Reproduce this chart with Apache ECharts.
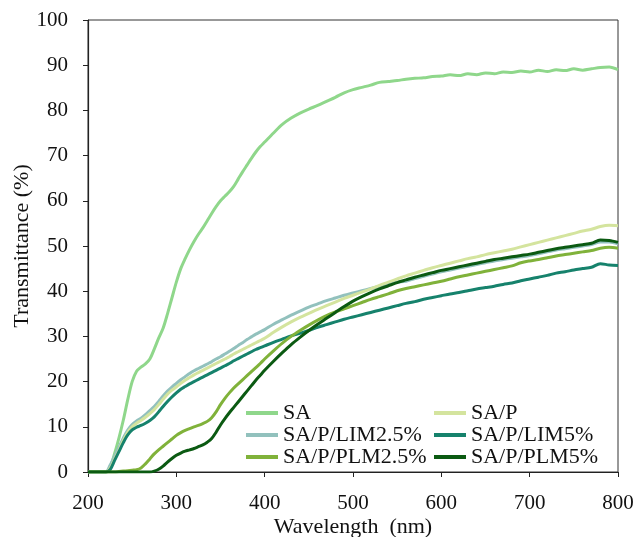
<!DOCTYPE html>
<html>
<head>
<meta charset="utf-8">
<script src="https://cdn.jsdelivr.net/npm/echarts@6/dist/echarts.min.js"></script>
<style>html,body{margin:0;padding:0;background:#fff}#chart{width:635px;height:537px}</style>
</head>
<body>
<div id="chart"></div>
<script>
const wavelengths = [200,205,210,215,220,225,230,235,240,245,250,255,260,265,270,275,280,285,290,295,300,305,310,315,320,325,330,335,340,345,350,355,360,365,370,375,380,385,390,395,400,
410,420,430,440,450,460,470,480,490,500,510,520,530,540,550,560,570,580,590,600,610,620,630,640,650,660,670,680,690,700,710,720,730,740,750,760,770,780,790,800];

const seriesNames = ['SA','SA/P','SA/P/LIM2.5%','SA/P/LIM5%','SA/P/PLM2.5%','SA/P/PLM5%'];

const sa = [0,0,0,0,0,
1,4,7.5,11.5,16,20,22.3,23.2,23.9,25,
27.2,29.6,31.8,35,38.5,42,45,47.2,49.2,51,
52.6,54,55.6,57.2,58.7,60,61,62,63.2,64.8,
66.4,67.9,69.4,70.8,72,73,
75,76.9,78.3,79.4,80.3,81.1,82,82.9,83.9,84.6,
85.1,85.6,86.2,86.4,86.6,86.9,87.1,87.2,87.5,87.6,
87.9,87.7,88.1,87.9,88.3,88.1,88.5,88.4,88.7,88.5,
88.9,88.6,89,88.8,89.2,88.9,89.2,89.5,89.6,89.0];

const saP = [0,0,0,0,0,
0.8,2.8,4.8,7,8.8,10,10.8,11.4,12.1,12.9,
13.8,14.9,16.1,17.2,18.1,18.8,19.6,20.3,20.9,21.5,
22,22.5,23,23.5,24,24.5,25,25.5,26.1,26.6,
27.1,27.6,28.1,28.6,29.1,29.6,
30.9,32.1,33.2,34.2,35.1,36,36.8,37.6,38.4,39.1,
39.8,40.5,41.3,42,42.7,43.4,44,44.6,45.2,45.7,
46.2,46.7,47.2,47.6,48.1,48.5,48.9,49.3,49.8,50.3,
50.8,51.3,51.8,52.3,52.8,53.3,53.7,54.3,54.6,54.5];

const lim25 = [0,0,0,0,0,
1.5,3.5,5.5,7.5,9.3,10.5,11.3,11.9,12.7,13.6,
14.5,15.6,16.8,17.9,18.8,19.6,20.4,21.1,21.8,22.4,
22.9,23.4,23.9,24.4,25,25.5,26.1,26.7,27.3,28,
28.6,29.3,29.9,30.5,31,31.5,
32.7,33.7,34.7,35.6,36.5,37.2,37.9,38.5,39.1,39.6,
40.1,40.6,41.1,41.7,42,42.2,42.8,43.3,43.8,44.3,
44.7,45.1,45.5,45.9,46.3,46.7,47,47.3,47.6,47.9,
48.3,48.7,49.1,49.4,49.7,50,50.3,50.9,50.9,50.5];

const lim5 = [0,0,0,0,0,
0.5,2.5,4.5,6.5,8.2,9.3,9.9,10.3,10.8,11.4,
12.2,13.3,14.5,15.6,16.6,17.5,18.3,18.9,19.5,20,
20.5,21,21.5,22,22.5,23,23.5,24,24.6,25.1,
25.6,26.1,26.6,27.1,27.5,27.9,
28.7,29.4,30.1,30.7,31.3,32,32.6,33.2,33.8,34.3,
34.8,35.3,35.8,36.3,36.8,37.3,37.7,38.2,38.6,39,
39.4,39.7,40.1,40.5,40.8,41.1,41.5,41.8,42.3,42.7,
43.1,43.5,44,44.3,44.7,45,45.3,46.1,45.8,45.7];

const plm25 = [0,0,0,0,0,0,0,0.1,0.2,0.3,0.4,0.5,0.9,1.8,2.9,
4,4.9,5.7,6.5,7.3,8.1,8.7,9.2,9.6,10,
10.3,10.7,11.2,12,13.3,14.9,16.3,17.5,18.6,19.5,
20.4,21.3,22.2,23.1,24,25,
26.8,28.5,30,31.3,32.5,33.6,34.6,35.4,36.1,36.8,
37.5,38.2,38.8,39.4,40.1,40.6,41,41.4,41.8,42.2,
42.7,43.2,43.6,44,44.4,44.8,45.2,45.6,46.3,46.7,
47,47.4,47.8,48.1,48.4,48.7,49,49.5,49.7,49.5];

const plm5 = [0,0,0,0,0,0,0,0,0,0,0,0,0,0,0,
0.2,0.6,1.3,2.2,3,3.7,4.2,4.6,4.9,5.2,
5.6,6,6.6,7.4,8.8,10.4,11.8,13.1,14.3,15.5,
16.7,17.9,19.1,20.3,21.4,22.5,
24.5,26.4,28.2,29.8,31.3,32.7,34,35.3,36.6,37.8,
38.8,39.7,40.5,41.2,41.9,42.5,43.1,43.6,44.1,44.6,
45,45.4,45.8,46.2,46.6,47,47.3,47.6,47.9,48.2,
48.6,49,49.4,49.7,50,50.3,50.6,51.3,51.2,50.8];

const colors = {
  'SA': '#8fd78b',
  'SA/P': '#d4e49e',
  'SA/P/LIM2.5%': '#92c1bd',
  'SA/P/LIM5%': '#16826c',
  'SA/P/PLM2.5%': '#80b23a',
  'SA/P/PLM5%': '#0b5a12'
};
const valuesByName = {
  'SA': sa, 'SA/P': saP, 'SA/P/LIM2.5%': lim25,
  'SA/P/LIM5%': lim5, 'SA/P/PLM2.5%': plm25, 'SA/P/PLM5%': plm5
};
// drawing order (later on top)
const drawOrder = ['SA','SA/P/LIM2.5%','SA/P','SA/P/LIM5%','SA/P/PLM2.5%','SA/P/PLM5%'];

const FONT = "'Liberation Serif','Times New Roman',serif";

const chart = echarts.init(document.getElementById('chart'), null, {renderer: 'canvas'});
const legendCommon = {
  orient: 'vertical',
  icon: 'rect',
  itemWidth: 32,
  itemHeight: 4,
  itemGap: 0,
  padding: 0,
  top: 402,
  textStyle: {fontFamily: FONT, fontSize: 22, color: '#111'},
  selectedMode: false
};
chart.setOption({
  animation: false,
  backgroundColor: '#fff',
  grid: {left: 88, right: 17, top: 20, bottom: 65, containLabel: false, outerBoundsMode: 'none',
         show: true, borderColor: '#333', borderWidth: 1},
  legend: [
    Object.assign({}, legendCommon, {left: 246, data: [seriesNames[0], seriesNames[2], seriesNames[4]]}),
    Object.assign({}, legendCommon, {left: 434, data: [seriesNames[1], seriesNames[3], seriesNames[5]]})
  ],
  xAxis: {
    type: 'value', min: 200, max: 800, interval: 100,
    name: 'Wavelength  (nm)', nameLocation: 'middle', nameGap: 44, nameMoveOverlap: false,
    nameTextStyle: {fontFamily: FONT, fontSize: 22, color: '#111'},
    axisLine: {show: true, lineStyle: {color: '#222', width: 1.2}},
    axisTick: {show: true, inside: false, length: 5, lineStyle: {color: '#222'}},
    axisLabel: {fontFamily: FONT, fontSize: 21, color: '#111', margin: 21},
    splitLine: {show: false}
  },
  yAxis: {
    type: 'value', min: 0, max: 100, interval: 10,
    name: 'Transmittance (%)', nameLocation: 'middle', nameGap: 55, nameMoveOverlap: false,
    nameTextStyle: {fontFamily: FONT, fontSize: 22, color: '#111'},
    axisLine: {show: true, lineStyle: {color: '#222', width: 1.2}},
    axisTick: {show: true, inside: false, length: 5, lineStyle: {color: '#222'}},
    axisLabel: {fontFamily: FONT, fontSize: 21, color: '#111', margin: 20},
    splitLine: {show: false}
  },
  series: drawOrder.map(name => ({
    name: name,
    type: 'line',
    showSymbol: false,
    smooth: 0.3,
    color: colors[name],
    lineStyle: {width: 3, color: colors[name]},
    data: wavelengths.map((w, i) => [w, valuesByName[name][i]])
  }))
});
</script>
</body>
</html>
